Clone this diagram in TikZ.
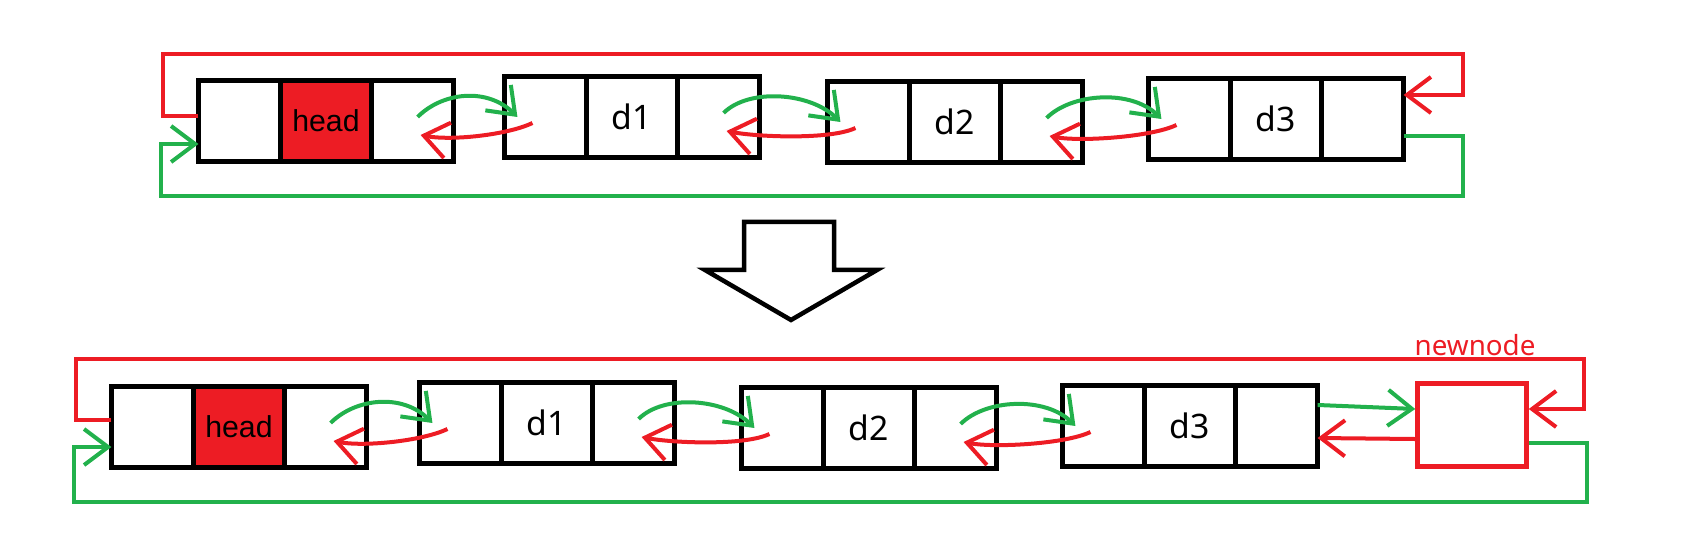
\documentclass[tikz,border=0pt]{standalone}
\usepackage{fontspec}
\setmainfont{Noto Sans}
\newfontfamily\arialfont{Liberation Sans}
\usepackage{xcolor}
\usepackage{tikz}
\usetikzlibrary{calc,positioning,arrows.meta}

\definecolor{pred}{HTML}{ED1C24}
\definecolor{pgreen}{HTML}{22B14C}

\tikzset{
  cell/.style={draw, line width=0.5mm, minimum height=8mm, inner sep=0pt, outer sep=0pt},
  sidecell/.style={cell, minimum width=8.2mm},
  midcell/.style={cell, minimum width=9.1mm, font=\fontsize{9.6}{10}\selectfont},
  headcell/.style={midcell, fill=pred, font=\arialfont\fontsize{8.6}{9}\selectfont},
  redln/.style={pred, line width=0.4mm},
  greenln/.style={pgreen, line width=0.4mm},
  barb/.style={-{Straight Barb[length=2.4mm,width=3.6mm]}},
}

\begin{document}
\begin{tikzpicture}[x=0.01cm,y=-0.01cm]
\useasboundingbox (0,0) rectangle (1701,549);

% list nodes, before (top) and after (bottom)
\foreach \nm/\px/\py in {head/326/121, headb/239/427}{
  \node[headcell] (\nm) at (\px,\py) {head};
  \node[sidecell, left=0pt of \nm] (\nm-l) {};
  \node[sidecell, right=0pt of \nm] (\nm-r) {};
}
\foreach \nm/\txt/\px/\py in {d1/d1/632/117, d2/d2/955/122, d3/d3/1276/119,
                              d1b/d1/547/423, d2b/d2/869/428, d3b/d3/1190/426}{
  \node[midcell] (\nm) at (\px,\py) {\txt};
  \node[sidecell, left=0pt of \nm] (\nm-l) {};
  \node[sidecell, right=0pt of \nm] (\nm-r) {};
}
\node[draw=pred, line width=0.45mm, minimum width=10.9mm, minimum height=8.3mm] (newnode) at (1472,425) {};
\node[pred, font=\fontsize{7.9}{9}\selectfont] (newlabel) at (1475,345) {newnode};

% next / prev links
\foreach \a/\b in {head/d1, d1/d2, d2/d3, headb/d1b, d1b/d2b, d2b/d3b}{
  \draw[greenln, barb] ($(\a-r.east)+(-36,-4)$) .. controls +(25,-25) and +(-30,-30) .. ($(\b-l.west)+(13,0)$);
  \draw[redln, barb] ($(\b-l.west)+(28,6)$) .. controls +(-25,12) and +(30,6) .. ($(\a-r.east)+(-33,14)$);
}

% wrap-around links, top
\coordinate (tl) at (163,54);
\coordinate (tr) at (1463,54);
\coordinate (bl) at (161,196);
\coordinate (br) at (1463,196);
\draw[redln, barb] ([yshift=0.5mm]head-l.west) -| (tl) -- (tr) |- ([yshift=2.4mm]d3-r.east);
\draw[greenln, barb] ([yshift=-1.7mm]d3-r.east) -| (br) -- (bl) |- ([yshift=-2.3mm]head-l.west);

% big arrow
\draw[line width=0.45mm, line join=miter] (744,222) -- (834,222) -- (834,270) -- (877,270)
  -- (791,320) -- (705,270) -- (744,270) -- cycle;

% wrap-around links, bottom
\coordinate (tlb) at (76,359);
\coordinate (trb) at (1584,359);
\coordinate (blb) at (74,502);
\coordinate (brb) at (1587,502);
\draw[redln, barb] ([yshift=0.7mm]headb-l.west) -| (tlb) -- (trb) |- ([yshift=1.6mm]newnode.east);
\draw[greenln, barb] ([yshift=-1.8mm]newnode.east) -| (brb) -- (blb) |- ([yshift=-2mm]headb-l.west);

% newnode links
\draw[greenln, barb] ([yshift=2.1mm]d3b-r.east) -- ([yshift=1.6mm]newnode.west);
\draw[redln, barb] ([yshift=-1.4mm]newnode.west) -- ([yshift=-1.2mm]d3b-r.east);
\end{tikzpicture}
\end{document}
